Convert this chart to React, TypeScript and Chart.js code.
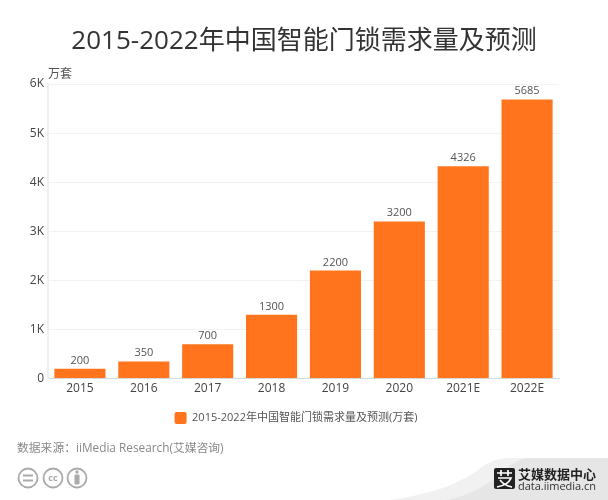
import React, { useEffect, useRef } from "react";
import { Chart, registerables } from "chart.js";

Chart.register(...registerables);

const categories = ["2015", "2016", "2017", "2018", "2019", "2020", "2021E", "2022E"];
const demand = [200, 350, 700, 1300, 2200, 3200, 4326, 5685];
const seriesName = "2015-2022年中国智能门锁需求量及预测(万套)";
const titleText = "2015-2022年中国智能门锁需求量及预测";
const unitText = "万套";
const sourceText = "数据来源：iiMedia Research(艾媒咨询)";
const FONT = '"Open Sans", "Noto Sans CJK SC", sans-serif';

const barLabels = {
  id: "barLabels",
  afterDatasetsDraw(chart: any) {
    const { ctx } = chart;
    const meta = chart.getDatasetMeta(0);
    ctx.save();
    ctx.font = `11px ${FONT}`;
    ctx.fillStyle = "#555555";
    ctx.textAlign = "center";
    ctx.textBaseline = "alphabetic";
    meta.data.forEach((bar: any, i: number) => {
      ctx.fillText(String(demand[i]), bar.x, bar.y - 5);
    });
    ctx.restore();
  },
};

const legendPlace = {
  id: "legendPlace",
  afterLayout(chart: any) {
    const l = chart.legend;
    const h = l.bottom - l.top;
    const w = l.right - l.left;
    l.top = 402;
    l.bottom = 402 + h;
    l.left = 296 - w / 2;
    l.right = 296 + w / 2;
  },
};

const abs = (o: React.CSSProperties): React.CSSProperties => ({ position: "absolute", whiteSpace: "nowrap", ...o });

export default function App() {
  const ref = useRef<HTMLCanvasElement>(null);
  useEffect(() => {
    const chart = new Chart(ref.current!, {
      type: "bar",
      data: {
        labels: categories,
        datasets: [{
          label: seriesName,
          data: demand,
          backgroundColor: "#ff741c",
          borderWidth: 0,
          categoryPercentage: 0.8,
          barPercentage: 1,
        }],
      },
      plugins: [barLabels, legendPlace],
      options: {
        animation: false,
        responsive: false,
        devicePixelRatio: 1,
        layout: { padding: { left: 0, right: 49, top: 84, bottom: 69 } },
        plugins: {
          title: { display: false },
          tooltip: { enabled: false },
          legend: {
            position: "bottom",
            labels: {
              font: { size: 11, family: FONT },
              color: "#555555",
              boxWidth: 12,
              boxHeight: 12,
              useBorderRadius: true,
              borderRadius: 2,
              padding: 10,
            },
          },
        },
        scales: {
          x: {
            grid: { display: false, tickLength: 0 },
            border: { color: "#d9d9d9", width: 1 },
            ticks: { color: "#444444", font: { size: 12, family: FONT }, padding: 3, maxRotation: 0 },
          },
          y: {
            min: 0,
            max: 6000,
            afterFit(s: any) { s.width = 48; },
            grid: { color: "#f2f2f2", drawTicks: false },
            border: { color: "#efefef", width: 2 },
            ticks: {
              stepSize: 1000,
              color: "#444444",
              padding: 4,
              font: { size: 12, family: FONT },
              callback: (v: any) => (v === 0 ? "0" : `${Number(v) / 1000}K`),
            },
          },
        },
      },
    });
    return () => chart.destroy();
  }, []);

  return (
    <div style={{ position: "fixed", left: 0, top: 0, width: 608, height: 500, background: "#fff", overflow: "hidden", fontFamily: FONT }}>
      <canvas ref={ref} width={608} height={500} style={{ display: "block", position: "absolute", left: 0, top: 0 }} />
      <div style={abs({ left: 0, width: 608, top: 20, textAlign: "center", fontSize: 26, lineHeight: "38px", color: "#333333" })}>{titleText}</div>
      <div style={abs({ left: 48, top: 66, fontSize: 12, lineHeight: "16px", color: "#555555" })}>{unitText}</div>
      <div style={abs({ left: 17, top: 439, fontSize: 11.8, lineHeight: "16px", color: "#888888" })}>{sourceText}</div>
      <svg width={608} height={500} style={{ position: "absolute", left: 0, top: 0 }}>
        <path d="M390 500 C430 494 455 486 478 470 C486 463 496 458 510 458 L608 458 L608 500 Z" fill="#f1f1f1" />
        <path d="M445 500 C470 496 490 484 505 470 C511 464 520 458 530 458 L608 458 L608 500 Z" fill="#e6e6e6" />
        <g fill="none" stroke="#aaaaaa" strokeWidth="1.8">
          <circle cx="28" cy="478" r="9.5" />
          <circle cx="53" cy="478" r="9.5" />
          <circle cx="77" cy="478" r="9.5" />
          <path d="M23 475.5 H33 M23 480.5 H33" />
        </g>
        <text x="53" y="481" textAnchor="middle" fontSize="9" fontWeight="700" fill="#aaaaaa" fontFamily={FONT}>cc</text>
        <circle cx="77" cy="472" r="1.7" fill="#aaaaaa" />
        <rect x="74.5" y="474.5" width="5" height="10" rx="1" fill="#aaaaaa" />
        <rect x="494" y="468" width="21" height="21" rx="2" fill="#222222" />
        <path d="M497 473 H512 M501 470 V476 M508 470 V476 M498 478 H511 C509 483 503 486 497 487 M500 480 C503 484 507 486 512 487" stroke="#ffffff" strokeWidth="1.7" fill="none" />
        <text x="518" y="479" fontSize="13" fontWeight="700" fill="#222222" fontFamily={FONT}>艾媒数据中心</text>
        <text x="518" y="490" fontSize="11" fill="#333333" fontFamily={FONT} textLength="78">data.iimedia.cn</text>
      </svg>
    </div>
  );
}
